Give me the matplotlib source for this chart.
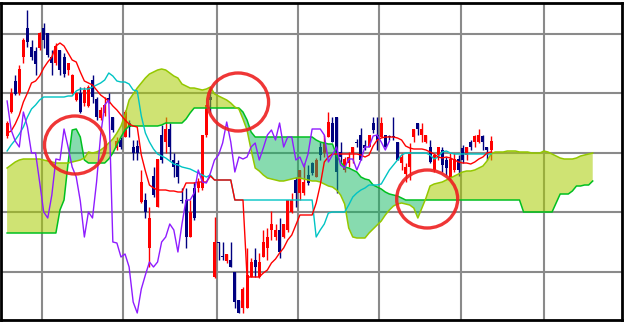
"""
Ichimoku chart: daily candles, conversion/base lines, lagging span and cloud,
with three red circles marking the cloud twists.
"""
import numpy as np
import matplotlib
matplotlib.use('Agg')
import matplotlib.pyplot as plt
from matplotlib.patches import Ellipse

# ===================== DATA =====================
# daily candles (price points), one entry per trading day
opens = [184, 208, 239, 227, 263, 292, 273, 269, 272, 292, 287, 263, 257, 270, 263, 250, 227, 220, 227, 217,
         214, 240, 221, 202, 207, 222, 203, 172, 180, 183, 197, 173, 174, 118, 120, 72, 144, 113, 185, 178,
         191, 160, 157, 120, 120, 83, 132, 132, 132, 185, 223, 43, 78, 64, 59, 60, 48, 20, 12, 12,
         43, 60, 43, 63, 72, 90, 83, 90, 83, 90, 108, 140, 127, 127, 145, 157, 143, 173, 167, 183,
         197, 203, 168, 150, 157, 167, 178, 185, 175, 173, 197, 185, 183, 185, 184, 184, 178, 157, 146, 153,
         183, 197, 185, 178, 173, 150, 165, 170, 160, 142, 150, 161, 172, 165, 178, 178, 178, 184, 173, 170]
highs = [199, 232, 245, 255, 282, 310, 280, 273, 288, 297, 287, 270, 277, 270, 267, 257, 246, 228, 233, 233,
         235, 245, 223, 213, 223, 227, 203, 183, 183, 210, 200, 180, 180, 150, 127, 113, 153, 161, 195, 203,
         197, 167, 160, 132, 132, 120, 138, 142, 185, 215, 232, 103, 78, 78, 66, 78, 48, 20, 33, 72,
         62, 72, 67, 90, 92, 109, 96, 102, 96, 120, 127, 143, 150, 157, 155, 158, 162, 178, 185, 208,
         203, 203, 178, 163, 168, 173, 181, 192, 180, 185, 203, 203, 203, 185, 185, 203, 178, 167, 157, 177,
         191, 197, 197, 185, 180, 165, 173, 173, 163, 167, 167, 165, 175, 173, 180, 185, 191, 185, 173, 184]
lows = [182, 207, 225, 225, 257, 273, 260, 245, 270, 272, 263, 245, 255, 245, 243, 245, 226, 219, 207, 214,
        213, 217, 200, 200, 204, 217, 188, 170, 171, 183, 183, 160, 160, 117, 102, 53, 123, 113, 157, 167,
        160, 143, 137, 117, 72, 83, 100, 128, 130, 183, 208, 42, 60, 60, 57, 53, 12, 7, 7, 12,
        43, 43, 42, 63, 60, 80, 80, 62, 82, 88, 107, 113, 120, 125, 135, 145, 143, 160, 163, 183,
        178, 127, 157, 148, 153, 157, 173, 160, 170, 173, 187, 170, 183, 173, 180, 180, 160, 150, 138, 140,
        178, 185, 178, 177, 157, 148, 160, 148, 145, 140, 148, 144, 157, 160, 170, 173, 177, 170, 160, 160]
closes = [197, 227, 226, 251, 280, 278, 263, 256, 287, 280, 265, 257, 274, 250, 246, 257, 245, 227, 208, 230,
          233, 223, 203, 210, 215, 219, 190, 179, 173, 208, 193, 167, 167, 138, 108, 102, 125, 161, 160, 191,
          173, 153, 143, 119, 83, 108, 102, 138, 185, 215, 220, 78, 77, 63, 66, 53, 18, 7, 31, 45,
          58, 53, 58, 78, 83, 96, 90, 68, 96, 120, 120, 127, 150, 138, 137, 147, 160, 165, 177, 198,
          178, 148, 163, 161, 163, 173, 177, 160, 172, 185, 190, 180, 197, 173, 183, 183, 160, 163, 153, 166,
          191, 191, 191, 185, 158, 165, 173, 155, 152, 161, 161, 150, 160, 173, 173, 184, 185, 178, 170, 179]

# conversion line (red) and base line (cyan)
tenkan = [187, 189, 196, 205, 218, 227, 237, 239, 244, 252, 258, 263, 274, 277, 274, 267, 260, 258, 248, 239,
          237, 235, 230, 225, 222, 219, 214, 210, 205, 200, 196, 194, 193, 165, 149, 135, 132, 130, 130, 130,
          129, 129, 128, 128, 137, 137, 137, 138, 138, 138, 144, 140, 140, 140, 140, 140, 120, 120, 120, 43,
          43, 43, 43, 47, 50, 57, 61, 67, 72, 80, 85, 95, 105, 105, 105, 105, 117, 135, 158, 163,
          166, 166, 166, 166, 166, 166, 166, 165, 163, 165, 174, 180, 182, 183, 183, 183, 182, 180, 174, 172,
          171, 171, 171, 170, 168, 166, 163, 162, 163, 162, 160, 158, 157, 157, 156, 158, 161, 163, 167, 168]
kijun = [169, 175, 180, 186, 193, 203, 211, 215, 220, 223, 223, 223, 223, 223, 223, 224, 224, 229, 231, 231,
         231, 233, 235, 237, 240, 247, 244, 239, 238, 238, 236, 230, 229, 204, 187, 178, 171, 166, 164, 162,
         159, 156, 155, 153, 152, 151, 149, 147, 145, 143, 145, 140, 140, 140, 140, 140, 120, 120, 120, 120,
         120, 120, 120, 120, 120, 120, 120, 120, 120, 120, 120, 120, 120, 120, 120, 120, 83, 90, 96, 107,
         108, 108, 108, 108, 115, 123, 127, 130, 132, 135, 135, 135, 136, 143, 150, 155, 160, 165, 167, 167,
         167, 167, 167, 167, 165, 161, 163, 168, 169, 167, 166, 166, 166, 166, 166, 166, 166, 166, 166, 166]

# leading spans (already shifted forward), green-edged and yellow-edged
span_g = [87, 87, 87, 87, 87, 87, 87, 87, 87, 87, 87, 87, 87, 110, 120, 157, 190, 191, 183, 160,
          157, 157, 157, 157, 157, 161, 167, 175, 183, 190, 194, 194, 194, 194, 194, 194, 194, 194, 195, 197,
          197, 197, 197, 197, 201, 207, 212, 212, 212, 212, 212, 212, 212, 212, 212, 212, 212, 212, 208, 200,
          188, 183, 183, 183, 183, 183, 183, 183, 183, 183, 183, 183, 183, 183, 183, 183, 180, 178, 177, 176,
          176, 165, 158, 153, 152, 150, 148, 143, 141, 140, 135, 133, 131, 128, 126, 125, 124, 122, 120, 120,
          120, 120, 120, 120, 120, 120, 120, 120, 120, 120, 120, 120, 120, 120, 120, 120, 120, 120, 120, 120,
          120, 120, 120, 120, 120, 120, 120, 108, 108, 108, 108, 108, 108, 108, 108, 117, 126, 126, 126, 129,
          134, 134, 135, 135, 139]
span_y = [152, 155, 158, 160, 161, 161, 161, 161, 161, 160, 159, 158, 157, 157, 157, 157, 158, 159, 160, 162,
          168, 167, 168, 170, 173, 177, 181, 187, 194, 205, 220, 226, 232, 237, 242, 246, 248, 250, 251, 250,
          247, 244, 242, 236, 234, 232, 232, 231, 230, 231, 233, 226, 224, 222, 220, 217, 213, 211, 201, 190,
          170, 152, 149, 145, 142, 141, 140, 139, 139, 140, 141, 142, 142, 141, 140, 139, 139, 138, 136, 134,
          133, 130, 125, 116, 92, 83, 82, 82, 82, 87, 91, 95, 99, 105, 110, 114, 116, 117, 116, 115,
          112, 102, 112, 122, 134, 136, 137, 138, 140, 142, 144, 146, 148, 149, 149, 150, 152, 154, 159, 166,
          168, 168, 168, 169, 169, 169, 168, 168, 168, 167, 167, 167, 169, 168, 166, 164, 162, 161, 161, 161,
          162, 164, 165, 166, 167]

chikou_shift = 25          # lagging span: close plotted 25 bars back

# month boundaries (bar index) and price grid levels
month_starts = [8.6, 28.5, 51.6, 71.6, 91.5, 111.6, 132.0]
price_levels = [48, 108, 167, 227, 286]

# highlighted twists: (bar, price)
highlights = [(16.7, 175), (56.8, 218), (103.3, 121)]

# ===================== STYLE =====================
c_up = '#ff0000'
c_down = '#000080'
c_tenkan = '#ff0000'
c_kijun = '#00c4c4'
c_chikou = '#8f1cff'
c_span_g = '#00c020'
c_span_y = '#94c800'
c_fill_g = '#10b860'
c_fill_y = '#a8cc00'

# ===================== FIGURE =====================
fig = plt.figure(figsize=(6.24, 3.22), dpi=100)
ax = fig.add_axes([1 / 624, 2 / 322, 621 / 624, 317 / 322])

o = np.array(opens)
h = np.array(highs)
l = np.array(lows)
c = np.array(closes)
x = np.arange(len(c))
up = c >= o
col = np.where(up, c_up, c_down)

# candles
ax.vlines(x, l, h, colors=col, linewidth=1, zorder=2)
body_h = np.maximum(np.abs(c - o), 1)
ax.bar(x, body_h, bottom=np.minimum(o, c), width=0.74, color=col, linewidth=0, zorder=2)

# cloud
xc = np.arange(len(span_g))
g = np.array(span_g)
yv = np.array(span_y)
ax.fill_between(xc, g, yv, where=g >= yv, interpolate=True, color=c_fill_g, alpha=0.5, linewidth=0, zorder=3)
ax.fill_between(xc, g, yv, where=g < yv, interpolate=True, color=c_fill_y, alpha=0.55, linewidth=0, zorder=3)
ax.plot(xc, g, color=c_span_g, linewidth=1.1, zorder=4)
ax.plot(xc, yv, color=c_span_y, linewidth=1.1, zorder=4)

# lines
ax.plot(x, kijun, color=c_kijun, linewidth=1.0, zorder=5)
ax.plot(x, tenkan, color=c_tenkan, linewidth=1.0, zorder=5)
ax.plot(x[:-chikou_shift], c[chikou_shift:], color=c_chikou, linewidth=1.0, zorder=5)

# circles
for bx, py in highlights:
    ax.add_patch(Ellipse((bx, py), width=15.0, height=58, fill=False,
                         edgecolor='#ee2020', linewidth=2.4, alpha=0.9, zorder=6))

# axes
ax.set_xlim(-1.5, 151.2)
ax.set_ylim(0, 317)
ax.set_xticks(month_starts)
ax.set_yticks(price_levels)
ax.tick_params(length=0, labelbottom=False, labelleft=False)
ax.set_axisbelow(True)
ax.grid(True, color='#8a8a8a', linewidth=1.5)
for sp in ax.spines.values():
    sp.set_color('black')
    sp.set_linewidth(2)

fig.savefig('out.png', dpi=100)
plt.close(fig)
